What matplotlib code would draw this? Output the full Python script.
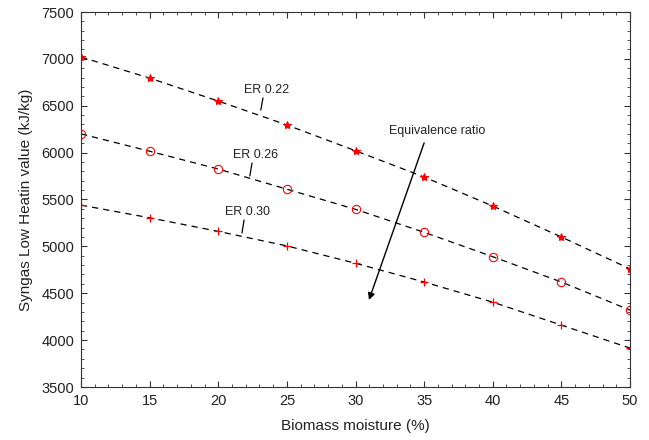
import matplotlib.pyplot as plt
from matplotlib.ticker import MultipleLocator

plt.rcParams['font.family'] = ['Liberation Sans', 'DejaVu Sans']

moisture = [10, 15, 20, 25, 30, 35, 40, 45, 50]
er022 = [7020, 6795, 6550, 6295, 6020, 5740, 5430, 5100, 4760]
er026 = [6200, 6015, 5825, 5610, 5395, 5150, 4890, 4620, 4320]
er030 = [5440, 5305, 5160, 5005, 4820, 4620, 4405, 4160, 3915]

fig = plt.figure(figsize=(6.49, 4.4), dpi=100)
ax = fig.add_axes([81/649, 1-387/440, 549/649, 375/440])

ax.plot(moisture, er022, 'k--', lw=0.9, dashes=(5, 4))
ax.plot(moisture, er022, '*', color='red', ms=6, mew=0.8)
ax.plot(moisture, er026, 'k--', lw=0.9, dashes=(5, 4))
ax.plot(moisture, er026, 'o', mfc='none', mec='red', ms=6, mew=0.8)
ax.plot(moisture, er030, 'k--', lw=0.9, dashes=(5, 4))
ax.plot(moisture, er030, '+', color='red', ms=6, mew=0.9)

# curve labels with short leader lines
line = dict(arrowstyle='-', color='k', lw=0.9, shrinkA=0, shrinkB=0)
ax.text(23.5, 6604, 'ER 0.22', fontsize=9, ha='center', va='bottom', color='#222222')
ax.annotate('', xy=(23.1, 6455), xytext=(23.26, 6583), arrowprops=line)
ax.text(22.7, 5911, 'ER 0.26', fontsize=9, ha='center', va='bottom', color='#222222')
ax.annotate('', xy=(22.3, 5751), xytext=(22.46, 5889), arrowprops=line)
ax.text(22.1, 5303, 'ER 0.30', fontsize=9, ha='center', va='bottom', color='#222222')
ax.annotate('', xy=(21.73, 5143), xytext=(21.88, 5281), arrowprops=line)

ax.text(35.94, 6167, 'Equivalence ratio', fontsize=9, ha='center', va='bottom', color='#222222')
ax.annotate('', xy=(30.98, 4428), xytext=(35.0, 6103),
            arrowprops=dict(arrowstyle='-|>', color='k', lw=1.0, mutation_scale=10, shrinkA=0, shrinkB=0))

ax.set_xlim(10, 50)
ax.set_ylim(3500, 7500)
ax.xaxis.set_major_locator(MultipleLocator(5))
ax.xaxis.set_minor_locator(MultipleLocator(1))
ax.yaxis.set_major_locator(MultipleLocator(500))
ax.yaxis.set_minor_locator(MultipleLocator(100))
ax.tick_params(which='both', direction='in', top=True, right=True, labelsize=10.5,
               colors='#333333', labelcolor='#222222')
ax.tick_params(which='major', length=4, pad=5)
ax.tick_params(which='minor', length=2)
for s in ax.spines.values():
    s.set_linewidth(0.8)
    s.set_color('#333333')

ax.set_xlabel('Biomass moisture (%)', fontsize=11, labelpad=8, color='#222222')
ax.set_ylabel('Syngas Low Heatin value (kJ/kg)', fontsize=11, labelpad=6, color='#222222')

fig.savefig('out.png', dpi=100)
